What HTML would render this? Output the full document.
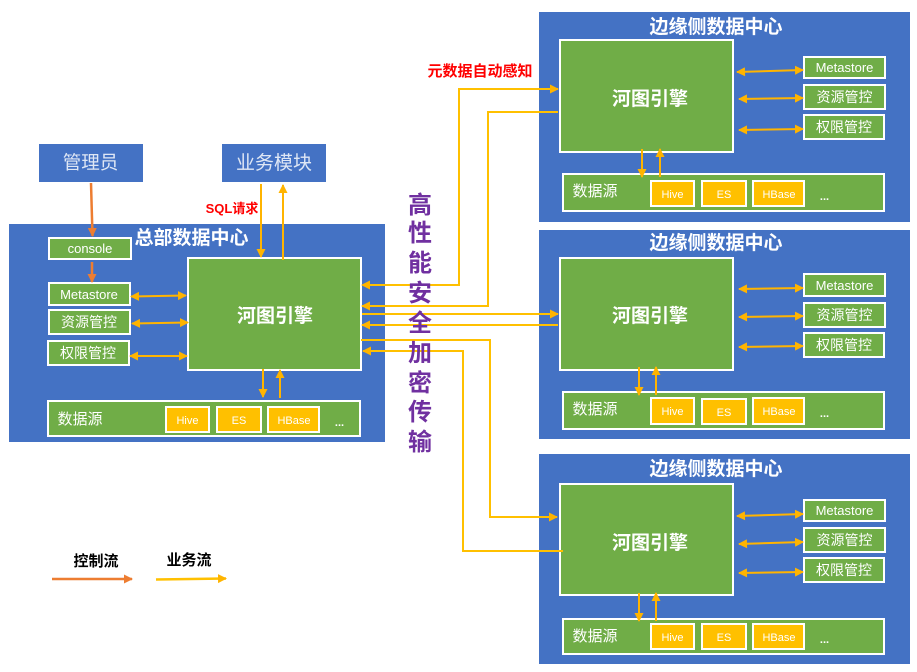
<!DOCTYPE html>
<html><head><meta charset="utf-8"><style>
html,body{margin:0;padding:0;background:#fff}
svg{display:block}
text{font-family:"Liberation Sans","Noto Sans CJK SC",sans-serif;text-anchor:middle}
.p{fill:#4472C4}
.g{fill:#70AD47;stroke:#fff;stroke-width:2}
.y{fill:#FFC000;stroke:#fff;stroke-width:2}
.t{fill:#fff;font-weight:bold;font-size:19px}
.s{fill:#fff;font-size:14px}
.m{fill:#fff;font-size:13px}
.d{fill:#fff;font-size:15px}
.h{fill:#fff;font-size:11px}
.a{fill:none;stroke:#FFB400;stroke-width:2;marker-end:url(#ya)}
.b{fill:none;stroke:#FFB400;stroke-width:2;marker-start:url(#ys);marker-end:url(#ya)}
.o{fill:none;stroke:#ED7D31;stroke-width:2.500;marker-end:url(#oa)}
.v{fill:#7030A0;font-weight:bold;font-size:24px}
</style></head><body>
<svg width="917" height="672" viewBox="0 0 917 672" xmlns="http://www.w3.org/2000/svg">
<defs>
<marker id="ya" markerUnits="userSpaceOnUse" markerWidth="12" markerHeight="12" refX="8" refY="4.500" orient="auto"><path d="M0 0L9 4.500L0 9Z" fill="#FFB400"/></marker>
<marker id="ys" markerUnits="userSpaceOnUse" markerWidth="12" markerHeight="12" refX="1" refY="4.500" orient="auto"><path d="M9 0L0 4.500L9 9Z" fill="#FFB400"/></marker>
<marker id="oa" markerUnits="userSpaceOnUse" markerWidth="12" markerHeight="12" refX="8" refY="4.500" orient="auto"><path d="M0 0L9 4.500L0 9Z" fill="#ED7D31"/></marker>
</defs>

<!-- top boxes -->
<rect class="p" x="39" y="144" width="104" height="38"/>
<rect class="p" x="222" y="144" width="104" height="38"/>
<text x="90.500" y="169" style="fill:#dfe7f5;font-size:18.500px">管理员</text>
<text x="274" y="169" style="fill:#dfe7f5;font-size:19px">业务模块</text>

<!-- central panel -->
<rect class="p" x="9" y="224" width="376" height="218"/>
<text class="t" x="191.500" y="244">总部数据中心</text>
<rect class="g" x="49" y="238" width="82" height="21"/>
<text class="m" x="90" y="253">console</text>
<rect class="g" x="49" y="283" width="81" height="22"/>
<text class="m" x="89" y="299">Metastore</text>
<rect class="g" x="49" y="310" width="81" height="24"/>
<text class="s" x="89" y="327">资源管控</text>
<rect class="g" x="48" y="341" width="81" height="24"/>
<text class="s" x="88" y="358">权限管控</text>
<rect class="g" x="188" y="258" width="173" height="112"/>
<text class="t" x="275" y="322">河图引擎</text>
<rect class="g" x="48" y="401" width="312" height="35"/>
<text class="d" x="80" y="424">数据源</text>
<rect class="y" x="166" y="407" width="43" height="25"/>
<text class="h" x="187.500" y="424">Hive</text>
<rect class="y" x="217" y="407" width="44" height="25"/>
<text class="h" x="239" y="424">ES</text>
<rect class="y" x="268" y="407" width="51" height="25"/>
<text class="h" x="294" y="424">HBase</text>
<text x="339.500" y="426" style="fill:#fff;font-size:11px;font-weight:bold">...</text>

<!-- edge panel 1 -->
<rect class="p" x="539" y="12" width="371" height="210"/>
<text class="t" x="716" y="33">边缘侧数据中心</text>
<rect class="g" x="560" y="40" width="173" height="112"/>
<text class="t" x="650" y="105">河图引擎</text>
<rect class="g" x="804" y="57" width="81" height="21"/>
<text class="m" x="844.500" y="72">Metastore</text>
<rect class="g" x="804" y="85" width="81" height="24"/>
<text class="s" x="844.500" y="102">资源管控</text>
<rect class="g" x="804" y="115" width="80" height="24"/>
<text class="s" x="844" y="132">权限管控</text>
<rect class="g" x="563" y="174" width="321" height="37"/>
<text class="d" x="595" y="196">数据源</text>
<rect class="y" x="651" y="181" width="43" height="25"/>
<text class="h" x="672.500" y="198">Hive</text>
<rect class="y" x="702" y="181" width="44" height="25"/>
<text class="h" x="724" y="198">ES</text>
<rect class="y" x="753" y="181" width="51" height="25"/>
<text class="h" x="779" y="198">HBase</text>
<text x="824.500" y="200" style="fill:#fff;font-size:11px;font-weight:bold">...</text>
<path class="b" d="M737 72L803 70"/>
<path class="b" d="M739 99L803 98"/>
<path class="b" d="M739 130L803 129"/>
<path class="a" d="M642 149V177"/>
<path class="a" d="M660 177V149"/>

<!-- edge panel 2 -->
<rect class="p" x="539" y="230" width="371" height="209"/>
<text class="t" x="716" y="249">边缘侧数据中心</text>
<rect class="g" x="560" y="258" width="173" height="112"/>
<text class="t" x="650" y="322">河图引擎</text>
<rect class="g" x="804" y="274" width="81" height="22"/>
<text class="m" x="844.500" y="290">Metastore</text>
<rect class="g" x="804" y="303" width="81" height="24"/>
<text class="s" x="844.500" y="320">资源管控</text>
<rect class="g" x="804" y="333" width="80" height="24"/>
<text class="s" x="844" y="350">权限管控</text>
<rect class="g" x="563" y="392" width="321" height="37"/>
<text class="d" x="595" y="414">数据源</text>
<rect class="y" x="651" y="398" width="43" height="26"/>
<text class="h" x="672.500" y="415">Hive</text>
<rect class="y" x="702" y="399" width="44" height="25"/>
<text class="h" x="724" y="416">ES</text>
<rect class="y" x="753" y="398" width="51" height="26"/>
<text class="h" x="779" y="415">HBase</text>
<text x="824.500" y="417" style="fill:#fff;font-size:11px;font-weight:bold">...</text>
<path class="b" d="M739 289L803 288"/>
<path class="b" d="M739 317L803 316"/>
<path class="b" d="M739 347L803 346"/>
<path class="a" d="M639 367V395"/>
<path class="a" d="M656 395V367"/>

<!-- edge panel 3 -->
<rect class="p" x="539" y="454" width="371" height="210"/>
<text class="t" x="716" y="475">边缘侧数据中心</text>
<rect class="g" x="560" y="484" width="173" height="111"/>
<text class="t" x="650" y="549">河图引擎</text>
<rect class="g" x="804" y="500" width="81" height="21"/>
<text class="m" x="844.500" y="515">Metastore</text>
<rect class="g" x="804" y="528" width="81" height="24"/>
<text class="s" x="844.500" y="545">资源管控</text>
<rect class="g" x="804" y="558" width="80" height="24"/>
<text class="s" x="844" y="575">权限管控</text>
<rect class="g" x="563" y="619" width="321" height="35"/>
<text class="d" x="595" y="641">数据源</text>
<rect class="y" x="651" y="624" width="43" height="25"/>
<text class="h" x="672.500" y="641">Hive</text>
<rect class="y" x="702" y="624" width="44" height="25"/>
<text class="h" x="724" y="641">ES</text>
<rect class="y" x="753" y="624" width="51" height="25"/>
<text class="h" x="779" y="641">HBase</text>
<text x="824.500" y="643" style="fill:#fff;font-size:11px;font-weight:bold">...</text>
<path class="b" d="M737 516L803 514"/>
<path class="b" d="M739 544L803 542"/>
<path class="b" d="M739 573L803 572"/>
<path class="a" d="M639 593V621"/>
<path class="a" d="M656 621V593"/>

<!-- central arrows -->
<path class="o" d="M91 183L92.500 236"/>
<path class="o" d="M92 262V282"/>
<path class="a" d="M261 184V257"/>
<path class="a" d="M283 260V185"/>
<path class="b" d="M131 296.500L186 295.500"/>
<path class="b" d="M132 323.500L188 322.500"/>
<path class="b" d="M130 356H187"/>
<path class="a" d="M263 369V397"/>
<path class="a" d="M280 398V370"/>

<!-- connectors -->
<path class="a" d="M363 285H459V89H558" style="stroke:#FFC000"/>
<path class="a" d="M558 112H488V306H362" style="stroke:#FFC000"/>
<path class="a" d="M362 314H558" style="stroke:#FFC000"/>
<path class="a" d="M558 325H362" style="stroke:#FFC000"/>
<path class="a" d="M361 340H490V517H557" style="stroke:#FFC000"/>
<path class="a" d="M563 551H463V351H363" style="stroke:#FFC000"/>
<path d="M361 285l9 -4.500v9Z" fill="#FFB400"/>

<!-- labels -->
<text x="480" y="76" style="fill:#f00;font-weight:bold;font-size:15px">元数据自动感知</text>
<text x="232" y="213" style="fill:#f00;font-weight:bold;font-size:13px">SQL请求</text>
<text class="v" x="420" y="213">高</text>
<text class="v" x="420" y="241">性</text>
<text class="v" x="420" y="271">能</text>
<text class="v" x="420" y="301">安</text>
<text class="v" x="420" y="331">全</text>
<text class="v" x="420" y="361">加</text>
<text class="v" x="420" y="391">密</text>
<text class="v" x="420" y="420">传</text>
<text class="v" x="420" y="450">输</text>

<!-- legend -->
<text x="96" y="566" style="fill:#000;font-weight:bold;font-size:15px">控制流</text>
<text x="189" y="565" style="fill:#000;font-weight:bold;font-size:15px">业务流</text>
<path d="M52 579H132" fill="none" stroke="#ED7D31" stroke-width="2.500" marker-end="url(#oa)"/>
<path d="M156 579.500L226 578.500" fill="none" stroke="#FFC000" stroke-width="2.500" marker-end="url(#ya)"/>
</svg>
</body></html>
